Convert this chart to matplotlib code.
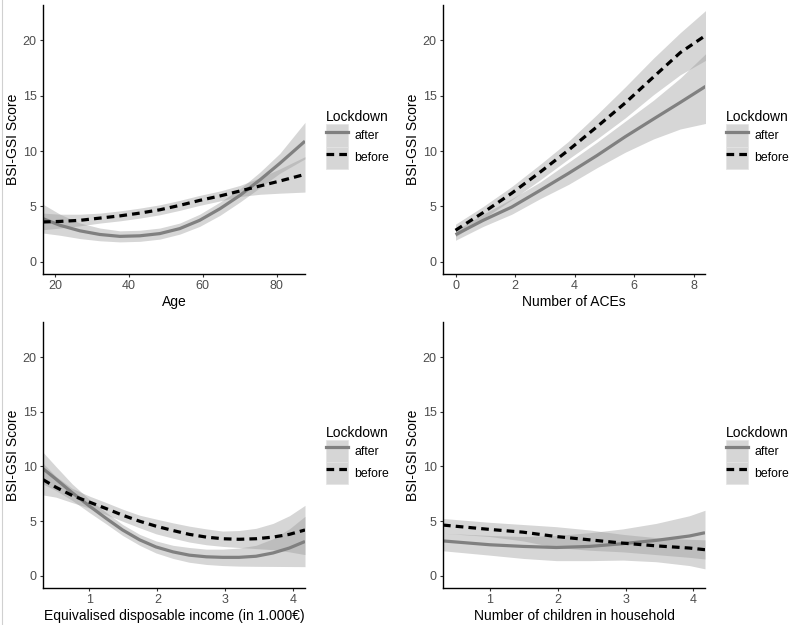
import matplotlib
matplotlib.use("Agg")
import matplotlib.pyplot as plt
from matplotlib.lines import Line2D
from matplotlib.patches import Patch

plt.rcParams['font.family'] = ['Liberation Sans', 'DejaVu Sans']

# Age
age_x = [16.8, 21.4, 26.8, 32.2, 37.6, 43.0, 48.4, 53.8, 59.2, 64.7, 70.1, 75.5, 80.9, 87.7]
age_after = [3.9, 3.3, 2.8, 2.47, 2.3, 2.35, 2.55, 3.0, 3.75, 4.8, 6.0, 7.4, 8.9, 10.9]
age_after_lo = [2.6, 2.4, 2.1, 1.9, 1.8, 1.85, 2.05, 2.5, 3.2, 4.2, 5.4, 6.7, 8.0, 9.3]
age_after_hi = [5.2, 4.3, 3.5, 3.05, 2.8, 2.85, 3.05, 3.5, 4.3, 5.4, 6.6, 8.1, 9.8, 12.6]
age_before = [3.6, 3.65, 3.75, 3.95, 4.15, 4.4, 4.7, 5.1, 5.55, 5.95, 6.4, 6.85, 7.3, 7.9]
age_before_lo = [2.9, 3.05, 3.25, 3.5, 3.7, 3.95, 4.25, 4.65, 5.1, 5.5, 5.9, 6.1, 6.2, 6.3]
age_before_hi = [4.4, 4.3, 4.3, 4.4, 4.6, 4.85, 5.15, 5.55, 6.0, 6.4, 6.9, 7.6, 8.4, 9.5]

# Number of ACEs
ace_x = [0.0, 0.93, 1.89, 2.84, 3.8, 4.75, 5.7, 6.65, 7.55, 8.4]
ace_after = [2.45, 3.75, 4.95, 6.45, 8.0, 9.6, 11.3, 12.9, 14.4, 15.85]
ace_after_lo = [1.95, 3.2, 4.3, 5.7, 7.0, 8.5, 9.9, 11.1, 12.0, 12.5]
ace_after_hi = [2.85, 4.3, 5.7, 7.2, 9.0, 10.8, 12.7, 14.6, 16.6, 18.8]
ace_before = [2.85, 4.45, 6.2, 8.1, 10.1, 12.2, 14.35, 16.7, 18.9, 20.45]
ace_before_lo = [2.25, 3.9, 5.6, 7.4, 9.3, 11.1, 13.0, 15.1, 16.9, 18.2]
ace_before_hi = [3.4, 5.0, 6.8, 8.8, 10.9, 13.3, 15.8, 18.4, 20.7, 22.7]

# Equivalised disposable income
inc_x = [0.32, 0.51, 0.75, 1.0, 1.25, 1.49, 1.74, 1.98, 2.23, 2.47, 2.72, 2.96, 3.2, 3.45, 3.7, 3.94, 4.17]
inc_after = [9.8, 8.85, 7.6, 6.4, 5.25, 4.2, 3.3, 2.65, 2.2, 1.9, 1.75, 1.7, 1.7, 1.8, 2.1, 2.55, 3.15]
inc_after_lo = [8.4, 7.8, 6.9, 5.8, 4.75, 3.7, 2.8, 2.1, 1.6, 1.25, 1.05, 0.95, 0.9, 0.88, 0.87, 0.86, 0.85]
inc_after_hi = [11.3, 10.0, 8.4, 7.0, 5.8, 4.7, 3.8, 3.2, 2.8, 2.6, 2.45, 2.45, 2.55, 2.8, 3.4, 4.3, 5.45]
inc_before = [8.8, 8.1, 7.35, 6.75, 6.15, 5.55, 5.0, 4.55, 4.15, 3.8, 3.55, 3.4, 3.35, 3.4, 3.55, 3.8, 4.2]
inc_before_lo = [7.4, 7.2, 6.7, 6.2, 5.6, 5.0, 4.4, 3.85, 3.45, 3.1, 2.85, 2.7, 2.6, 2.5, 2.4, 2.2, 1.95]
inc_before_hi = [10.3, 9.1, 8.0, 7.3, 6.7, 6.1, 5.55, 5.2, 4.85, 4.55, 4.3, 4.1, 4.15, 4.35, 4.8, 5.5, 6.45]

# Number of children in household
kid_x = [0.31, 1.0, 1.49, 1.98, 2.47, 2.96, 3.45, 3.94, 4.17]
kid_after = [3.2, 2.85, 2.7, 2.6, 2.7, 2.95, 3.25, 3.65, 3.95]
kid_after_lo = [2.3, 1.9, 1.6, 1.4, 1.4, 1.45, 1.3, 0.95, 0.65]
kid_after_hi = [3.9, 3.7, 3.6, 3.7, 3.95, 4.3, 4.8, 5.5, 6.0]
kid_before = [4.65, 4.25, 4.0, 3.6, 3.3, 3.0, 2.75, 2.55, 2.4]
kid_before_lo = [3.9, 3.6, 3.2, 2.6, 2.35, 2.2, 1.95, 1.7, 1.55]
kid_before_hi = [5.25, 4.9, 4.7, 4.5, 4.2, 3.8, 3.5, 3.35, 3.3]

y_ticks = [0, 5, 10, 15, 20]

panels = [
    ("Age", [20, 40, 60, 80], (16.8, 87.7), age_x,
     (age_after, age_after_lo, age_after_hi), (age_before, age_before_lo, age_before_hi)),
    ("Number of ACEs", [0, 2, 4, 6, 8], (-0.42, 8.38), ace_x,
     (ace_after, ace_after_lo, ace_after_hi), (ace_before, ace_before_lo, ace_before_hi)),
    ("Equivalised disposable income (in 1.000€)", [1, 2, 3, 4], (0.32, 4.17), inc_x,
     (inc_after, inc_after_lo, inc_after_hi), (inc_before, inc_before_lo, inc_before_hi)),
    ("Number of children in household", [1, 2, 3, 4], (0.31, 4.17), kid_x,
     (kid_after, kid_after_lo, kid_after_hi), (kid_before, kid_before_lo, kid_before_hi)),
]

W, H = 789, 625
# axes boxes in pixels: left, top, right, bottom
boxes = [(43, 5, 305, 274), (443, 5, 705, 274),
         (43, 322, 305, 588), (443, 322, 705, 588)]

fig = plt.figure(figsize=(7.89, 6.25), dpi=100)

band_col = '#999999'
after_col = '#808080'

for (xlabel, xticks, xlim, x, after, before), (l, t, r, b) in zip(panels, boxes):
    ax = fig.add_axes([l / W, 1 - b / H, (r - l) / W, (b - t) / H])
    ax.fill_between(x, after[1], after[2], color=band_col, alpha=0.4, lw=0)
    ax.fill_between(x, before[1], before[2], color=band_col, alpha=0.4, lw=0)
    ax.plot(x, after[0], color=after_col, lw=2.3, solid_capstyle='butt')
    ax.plot(x, before[0], color='black', lw=2.3, dashes=(2.4, 1.6))
    ax.set_xlim(*xlim)
    ax.set_ylim(-1.1, 23.2)
    ax.set_xticks(xticks)
    ax.set_yticks(y_ticks)
    ax.spines['top'].set_visible(False)
    ax.spines['right'].set_visible(False)
    for s in ('left', 'bottom'):
        ax.spines[s].set_linewidth(1.0)
    ax.tick_params(length=2.5, width=0.8, color='#333333', labelcolor='#4d4d4d',
                   labelsize=9, pad=2)
    ax.set_xlabel(xlabel, fontsize=10, labelpad=2)
    ax.set_ylabel("BSI-GSI Score", fontsize=10, labelpad=2)

    h_after = (Patch(facecolor='#d6d6d6', edgecolor='#e4e4e4', lw=0.5),
               Line2D([], [], color=after_col, lw=2.3))
    h_before = (Patch(facecolor='#d6d6d6', edgecolor='#e4e4e4', lw=0.5),
                Line2D([], [], color='black', lw=2.3, dashes=(2.4, 1.6)))
    leg = ax.legend([h_after, h_before], ["after", "before"], title="Lockdown",
                    loc='center left', bbox_to_anchor=(1.08, 0.5), frameon=False,
                    fontsize=8.8, title_fontsize=10, alignment='left',
                    handlelength=1.8, handleheight=2.4, labelspacing=0,
                    handletextpad=0.5, borderpad=0, borderaxespad=0)

# thin border line at the left edge of the image
fig.add_artist(Line2D([2 / W, 2 / W], [0, 1], color='#d0d0d0', lw=0.8))

fig.savefig("out.png", dpi=100)
